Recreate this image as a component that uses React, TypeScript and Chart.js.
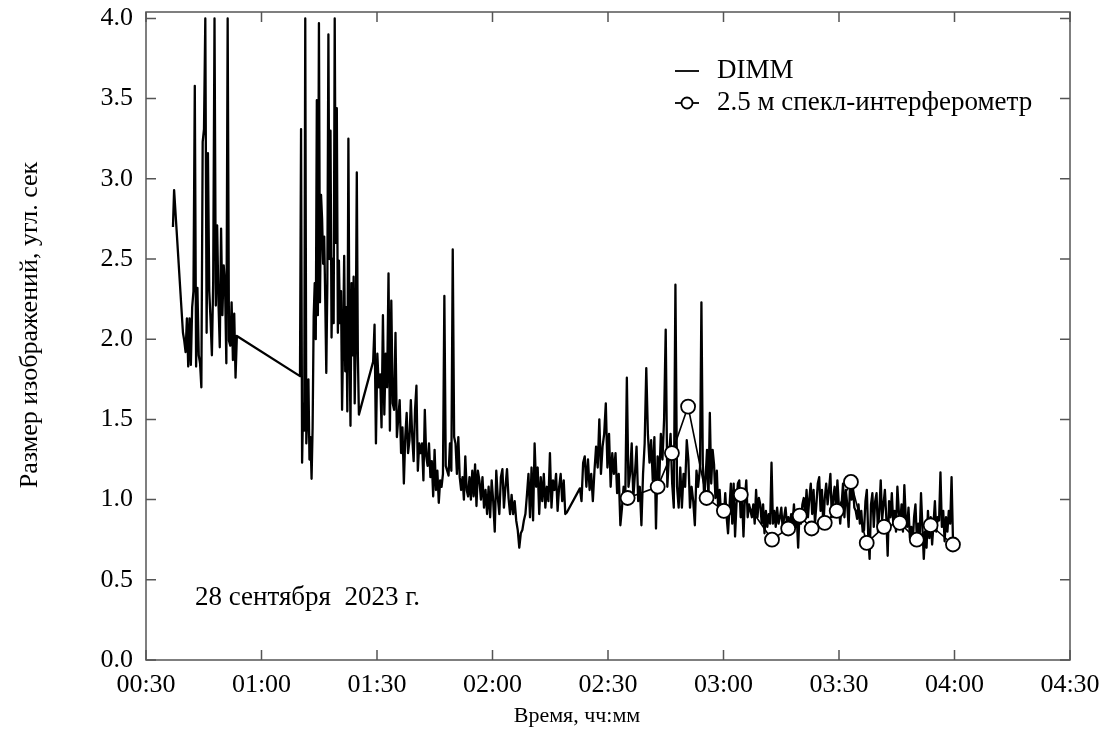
import React, { useEffect, useRef } from "react";
import { Chart, registerables } from "chart.js";

Chart.register(...registerables);

const FONT = "'Liberation Serif', 'Times New Roman', serif";

// ---- Axis ticks ----
const xTickValues = [30, 60, 90, 120, 150, 180, 210, 240, 270];
const xTickLabels = ["00:30", "01:00", "01:30", "02:00", "02:30", "03:00", "03:30", "04:00", "04:30"];
const yTickValues = [0, 0.5, 1, 1.5, 2, 2.5, 3, 3.5, 4];

// ---- DIMM data: continuous recording pieces (time span in minutes after 00:00, values in arcsec) ----
const dimmSpan1 = [37.0, 37.3];
const dimmVals1 = [2.70, 2.93];

const dimmSpan2 = [39.6, 53.6];
const dimmVals2 = [2.04, 1.99, 1.92, 2.13, 1.83, 2.13, 1.84, 2.20, 2.30, 3.58, 1.83, 2.32, 1.90, 1.85, 1.70, 3.23, 3.31, 4.00, 2.04, 3.16, 2.30, 2.12, 1.90, 2.36, 4.00, 2.21, 2.71, 2.23, 1.95, 2.69, 2.15, 2.46, 2.34, 1.85, 4.00, 1.99, 1.96, 2.23, 1.87, 2.16, 1.76, 2.02];

const dimmSpan3 = [70.0, 85.3];
const dimmVals3 = [1.77, 3.31, 1.23, 1.60, 1.43, 4.00, 1.35, 1.53, 1.75, 1.25, 1.39, 1.13, 1.45, 2.14, 2.35, 2.00, 3.49, 2.15, 3.97, 2.23, 2.90, 2.75, 2.47, 2.64, 2.25, 1.79, 2.35, 3.90, 2.50, 3.30, 2.01, 2.50, 2.10, 4.00, 2.60, 3.44, 2.04, 2.49, 2.10, 2.30, 1.56, 2.00, 2.52, 1.80, 2.20, 1.55, 3.25, 2.00, 1.46, 2.35, 1.90, 2.39, 1.60, 2.00, 3.04, 1.90, 1.53];

const dimmSpan4 = [89.0, 116.2];
const dimmVals4 = [1.86, 2.09, 1.35, 1.91, 1.70, 1.78, 1.45, 2.15, 1.53, 1.91, 1.70, 2.41, 1.43, 2.24, 1.60, 1.56, 2.04, 1.39, 1.51, 1.62, 1.29, 1.45, 1.10, 1.39, 1.54, 1.29, 1.37, 1.62, 1.39, 1.24, 1.56, 1.71, 1.18, 1.35, 1.29, 1.35, 1.12, 1.56, 1.27, 1.21, 1.35, 1.14, 1.24, 1.02, 1.31, 1.06, 1.18, 0.98, 1.12, 1.08, 1.16, 2.27, 1.21, 1.18, 1.15, 1.35, 1.18, 2.56, 1.39, 1.35, 1.16, 1.39, 1.14, 1.06, 1.14, 1.00, 1.27, 1.06, 1.02, 1.14, 1.00, 1.18, 1.02, 1.22, 0.96, 1.18];

const dimmSpan5 = [116.6, 139.3];
const dimmVals5 = [1.12, 1.00, 1.14, 0.95, 1.06, 0.91, 1.08, 0.89, 1.12, 0.99, 0.80, 1.18, 1.01, 0.91, 1.14, 1.19, 0.95, 1.08, 1.19, 1.01, 0.91, 1.03, 0.91, 0.99, 0.87, 0.81, 0.70, 0.79, 0.81, 0.87, 0.91, 1.03, 1.16, 0.89, 1.20, 0.87, 1.35, 1.08, 1.20, 0.91, 1.14, 0.99, 1.16, 0.95, 1.08, 0.99, 1.29, 0.95, 1.12, 1.06, 1.16, 0.93, 1.08, 1.16, 0.99, 1.12, 0.91, 0.92];

const dimmSpan6 = [142.7, 173.4];
const dimmVals6 = [1.07, 0.99, 1.23, 1.27, 1.08, 1.25, 1.06, 1.16, 0.99, 1.18, 1.33, 1.20, 1.50, 1.16, 1.33, 1.41, 1.60, 1.20, 1.41, 1.08, 1.29, 1.16, 1.29, 1.04, 1.16, 0.84, 0.95, 1.08, 0.99, 1.76, 1.08, 1.16, 1.35, 1.01, 1.16, 1.33, 0.99, 1.08, 0.84, 1.16, 1.35, 1.82, 1.41, 1.23, 1.37, 1.12, 1.39, 0.82, 1.27, 1.12, 1.41, 1.25, 1.50, 2.06, 1.08, 1.27, 1.41, 1.10, 0.95, 2.34, 1.08, 0.95, 1.20, 0.95, 1.16, 1.08, 1.37, 1.25, 0.95, 1.08, 0.99, 0.84, 1.18, 1.08];

const dimmSpan7 = [173.9, 212.5];
const dimmVals7 = [1.20, 2.23, 1.22, 1.01, 1.14, 1.31, 0.99, 1.54, 1.10, 1.31, 1.22, 1.01, 1.18, 0.93, 1.06, 0.91, 0.97, 0.89, 1.04, 0.89, 0.79, 0.95, 1.10, 0.85, 1.10, 0.77, 0.97, 1.10, 1.12, 0.89, 1.01, 0.77, 1.01, 1.12, 0.89, 0.97, 0.93, 0.89, 0.97, 0.85, 1.06, 0.89, 1.01, 0.97, 0.85, 0.97, 0.79, 0.93, 0.83, 0.91, 0.85, 1.23, 0.85, 0.93, 0.83, 0.95, 0.85, 0.89, 0.95, 0.81, 0.89, 0.95, 0.85, 0.89, 0.83, 0.91, 0.85, 0.97, 0.83, 0.89, 0.70, 0.93, 0.85, 0.97, 1.01, 0.91, 1.06, 0.89, 1.01, 1.10, 0.91, 1.06, 0.85, 0.97, 1.10, 1.14, 0.93, 1.06, 0.83, 1.01, 1.10, 0.97, 1.06, 1.16, 0.89, 1.01, 1.08, 0.93, 1.12, 0.97, 0.85, 0.97, 1.10, 0.89, 1.06, 0.97, 0.83];

const dimmSpan8 = [212.9, 239.6];
const dimmVals8 = [1.12, 1.00, 1.08, 0.95, 0.93, 0.88, 0.97, 0.85, 0.93, 0.80, 0.81, 0.99, 1.06, 0.78, 0.63, 0.97, 1.04, 0.83, 0.99, 1.04, 0.80, 0.93, 1.12, 0.87, 0.97, 1.06, 0.89, 0.65, 0.99, 0.89, 1.04, 0.85, 0.93, 0.80, 1.08, 0.93, 0.85, 0.97, 0.80, 1.09, 0.89, 0.83, 0.95, 0.76, 0.83, 0.72, 0.89, 0.97, 0.76, 0.85, 0.76, 1.04, 0.83, 0.63, 0.80, 0.70, 0.93, 0.76, 0.89, 0.72, 0.85, 0.99, 0.80, 0.89, 0.87, 1.17, 0.83, 0.93, 0.74, 0.89, 0.80, 0.93, 0.85, 1.14, 0.75];

// ---- 2.5 m speckle interferometer ----
const speckleTimes = [155.1, 162.9, 166.6, 170.8, 175.6, 180.1, 184.5, 192.6, 196.8, 199.8, 202.9, 206.3, 209.4, 213.1, 217.2, 221.7, 225.8, 230.2, 233.8, 239.6];
const speckleVals = [1.01, 1.08, 1.29, 1.58, 1.01, 0.93, 1.03, 0.75, 0.82, 0.90, 0.82, 0.855, 0.93, 1.11, 0.73, 0.83, 0.855, 0.75, 0.84, 0.72];

const legendLabels = ["DIMM", "2.5 м спекл-интерферометр"];
const dateNote = "28 сентября  2023 г.";
const xTitle = "Время, чч:мм";
const yTitle = "Размер изображений, угл. сек";

const dimmPieces: [number[], number[]][] = [
  [dimmSpan1, dimmVals1],
  [dimmSpan2, dimmVals2],
  [dimmSpan3, dimmVals3],
  [dimmSpan4, dimmVals4],
  [dimmSpan5, dimmVals5],
  [dimmSpan6, dimmVals6],
  [dimmSpan7, dimmVals7],
  [dimmSpan8, dimmVals8],
];

function piecePoints(span: number[], vals: number[]) {
  const n = vals.length;
  return vals.map((v, i) => ({
    x: n > 1 ? span[0] + (i * (span[1] - span[0])) / (n - 1) : span[0],
    y: v,
  }));
}

const framePlugin = {
  id: "frameAndNotes",
  afterDraw(chart: any) {
    const { ctx, chartArea: a, scales } = chart;
    ctx.save();
    // frame
    ctx.strokeStyle = "#555";
    ctx.lineWidth = 1.5;
    ctx.strokeRect(a.left, a.top, a.right - a.left, a.bottom - a.top);
    // inward ticks on all sides
    ctx.beginPath();
    const tl = 10;
    xTickValues.forEach((v) => {
      const px = scales.x.getPixelForValue(v);
      ctx.moveTo(px, a.bottom);
      ctx.lineTo(px, a.bottom - tl);
      ctx.moveTo(px, a.top);
      ctx.lineTo(px, a.top + tl);
    });
    yTickValues.forEach((v) => {
      const py = scales.y.getPixelForValue(v);
      ctx.moveTo(a.left, py);
      ctx.lineTo(a.left + tl, py);
      ctx.moveTo(a.right, py);
      ctx.lineTo(a.right - tl, py);
    });
    ctx.stroke();

    // legend
    ctx.fillStyle = "#000";
    ctx.strokeStyle = "#000";
    ctx.font = `27px ${FONT}`;
    ctx.textBaseline = "middle";
    ctx.textAlign = "left";
    ctx.lineWidth = 1.8;
    ctx.beginPath();
    ctx.moveTo(675, 71);
    ctx.lineTo(699, 71);
    ctx.stroke();
    ctx.fillText(legendLabels[0], 717, 71);
    ctx.beginPath();
    ctx.moveTo(675, 103);
    ctx.lineTo(699, 103);
    ctx.stroke();
    ctx.beginPath();
    ctx.arc(687, 103, 5.5, 0, Math.PI * 2);
    ctx.fillStyle = "#fff";
    ctx.fill();
    ctx.stroke();
    ctx.fillStyle = "#000";
    ctx.fillText(legendLabels[1], 717, 103);

    // date note
    ctx.font = `27px ${FONT}`;
    ctx.fillText(dateNote, 195, 598);

    // axis titles
    ctx.font = `22px ${FONT}`;
    ctx.textAlign = "center";
    ctx.fillText(xTitle, 577, 716);
    ctx.font = `26px ${FONT}`;
    ctx.save();
    ctx.translate(30, 325);
    ctx.rotate(-Math.PI / 2);
    ctx.fillText(yTitle, 0, 0);
    ctx.restore();

    ctx.restore();
  },
};

export default function App() {
  const ref = useRef<HTMLCanvasElement | null>(null);

  useEffect(() => {
    if (!ref.current) return;
    const dimmPoints = dimmPieces.flatMap(([s, v]) => piecePoints(s, v));
    const specklePoints = speckleTimes.map((t, i) => ({ x: t, y: speckleVals[i] }));

    const chart = new Chart(ref.current, {
      type: "line",
      data: {
        datasets: [
          {
            label: legendLabels[1],
            data: specklePoints,
            borderColor: "#000",
            borderWidth: 1.6,
            pointRadius: 7,
            pointBorderWidth: 1.8,
            pointBackgroundColor: "#fff",
            pointBorderColor: "#000",
            order: 0,
          },
          {
            label: legendLabels[0],
            data: dimmPoints,
            borderColor: "#000",
            borderWidth: 2.3,
            borderJoinStyle: "round",
            pointRadius: 0,
            order: 1,
          },
        ],
      },
      options: {
        responsive: false,
        animation: false,
        events: [],
        layout: { padding: { top: 12, right: 36, left: 0, bottom: 0 } },
        plugins: {
          legend: { display: false },
          tooltip: { enabled: false },
          title: { display: false },
        },
        scales: {
          x: {
            type: "linear",
            min: 30,
            max: 270,
            grid: { display: false, drawTicks: false },
            border: { display: false },
            afterBuildTicks: (scale: any) => {
              scale.ticks = xTickValues.map((v) => ({ value: v }));
            },
            afterFit: (scale: any) => {
              scale.height = 80;
              scale.paddingLeft = 0;
              scale.paddingRight = 0;
            },
            ticks: {
              autoSkip: false,
              maxRotation: 0,
              padding: 10,
              color: "#000",
              font: { family: FONT, size: 26 },
              callback: (_v: any, i: number) => xTickLabels[i],
            },
          },
          y: {
            type: "linear",
            min: 0,
            max: 4.04,
            grid: { display: false, drawTicks: false },
            border: { display: false },
            afterBuildTicks: (scale: any) => {
              scale.ticks = yTickValues.map((v) => ({ value: v }));
            },
            afterFit: (scale: any) => {
              scale.width = 146;
              scale.paddingTop = 0;
              scale.paddingBottom = 0;
            },
            ticks: {
              padding: 13,
              color: "#000",
              font: { family: FONT, size: 26 },
              callback: (v: any) => Number(v).toFixed(1),
            },
          },
        },
      },
      plugins: [framePlugin],
    });
    return () => chart.destroy();
  }, []);

  return (
    <div style={{ position: "absolute", left: 0, top: 0, width: 1106, height: 740, background: "#fff" }}>
      <canvas ref={ref} width={1106} height={740} style={{ display: "block" }} />
    </div>
  );
}
